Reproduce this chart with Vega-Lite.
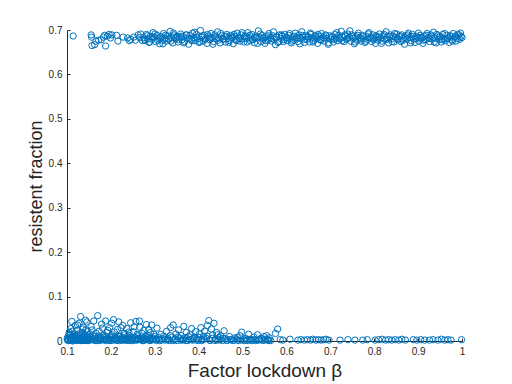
{
  "$schema": "https://vega.github.io/schema/vega-lite/v6.json",
  "width": 395,
  "height": 311,
  "autosize": {"type": "none"},
  "padding": {"left": 67, "top": 30, "right": 50, "bottom": 43},
  "background": "white",
  "config": {
    "view": {"stroke": null},
    "font": "Liberation Sans",
    "axis": {
      "grid": false,
      "domainColor": "#262626",
      "domainWidth": 1,
      "tickColor": "#262626",
      "tickSize": -3,
      "labelPadding": 8,
      "labelFont": "Liberation Sans",
      "labelFontSize": 10,
      "labelColor": "#262626",
      "titleFont": "Liberation Sans",
      "titleFontWeight": "normal",
      "titleColor": "#262626"
    }
  },
  "data": {
    "values": [
      {"beta":0.114,"frac":0.6865},{"beta":0.155,"frac":0.689},{"beta":0.156,"frac":0.684},{"beta":0.157,"frac":0.665},
      {"beta":0.163,"frac":0.667},{"beta":0.166,"frac":0.675},{"beta":0.172,"frac":0.677},{"beta":0.178,"frac":0.678},
      {"beta":0.183,"frac":0.684},{"beta":0.186,"frac":0.688},{"beta":0.188,"frac":0.664},{"beta":0.192,"frac":0.686},
      {"beta":0.196,"frac":0.690},{"beta":0.199,"frac":0.682},{"beta":0.202,"frac":0.689},{"beta":0.213,"frac":0.688},
      {"beta":0.216,"frac":0.675},{"beta":0.228,"frac":0.684},{"beta":0.238,"frac":0.682},{"beta":0.242,"frac":0.676},
      {"beta":0.245,"frac":0.679},{"beta":0.252,"frac":0.684},{"beta":0.256,"frac":0.677},{"beta":0.262,"frac":0.689},
      {"beta":0.265,"frac":0.683},{"beta":0.268,"frac":0.691},{"beta":0.272,"frac":0.676},
      {"beta":0.275,"frac":0.683},{"beta":0.278,"frac":0.676},{"beta":0.281,"frac":0.690},{"beta":0.284,"frac":0.680},{"beta":0.287,"frac":0.672},
      {"beta":0.290,"frac":0.686},{"beta":0.293,"frac":0.679},{"beta":0.296,"frac":0.694},{"beta":0.299,"frac":0.684},{"beta":0.302,"frac":0.674},
      {"beta":0.305,"frac":0.688},{"beta":0.308,"frac":0.681},{"beta":0.311,"frac":0.669},{"beta":0.314,"frac":0.685},{"beta":0.317,"frac":0.677},
      {"beta":0.320,"frac":0.692},{"beta":0.323,"frac":0.682},{"beta":0.326,"frac":0.675},{"beta":0.329,"frac":0.687},{"beta":0.332,"frac":0.679},
      {"beta":0.335,"frac":0.697},{"beta":0.338,"frac":0.683},{"beta":0.341,"frac":0.671},{"beta":0.344,"frac":0.689},{"beta":0.347,"frac":0.680},
      {"beta":0.350,"frac":0.686},{"beta":0.353,"frac":0.673},{"beta":0.356,"frac":0.684},{"beta":0.359,"frac":0.691},{"beta":0.362,"frac":0.678},
      {"beta":0.365,"frac":0.685},{"beta":0.368,"frac":0.674},{"beta":0.371,"frac":0.689},{"beta":0.374,"frac":0.681},{"beta":0.377,"frac":0.668},
      {"beta":0.380,"frac":0.687},{"beta":0.383,"frac":0.679},{"beta":0.386,"frac":0.693},{"beta":0.389,"frac":0.683},{"beta":0.392,"frac":0.676},
      {"beta":0.395,"frac":0.690},{"beta":0.398,"frac":0.680},{"beta":0.401,"frac":0.672},{"beta":0.404,"frac":0.699},{"beta":0.407,"frac":0.684},
      {"beta":0.410,"frac":0.675},{"beta":0.413,"frac":0.688},{"beta":0.416,"frac":0.681},{"beta":0.419,"frac":0.670},{"beta":0.422,"frac":0.686},
      {"beta":0.425,"frac":0.678},{"beta":0.428,"frac":0.692},{"beta":0.431,"frac":0.683},{"beta":0.434,"frac":0.674},{"beta":0.437,"frac":0.689},
      {"beta":0.440,"frac":0.680},{"beta":0.443,"frac":0.696},{"beta":0.446,"frac":0.682},{"beta":0.449,"frac":0.671},{"beta":0.452,"frac":0.687},
      {"beta":0.455,"frac":0.679},{"beta":0.458,"frac":0.685},{"beta":0.461,"frac":0.673},{"beta":0.464,"frac":0.690},{"beta":0.467,"frac":0.681},
      {"beta":0.470,"frac":0.676},{"beta":0.473,"frac":0.688},{"beta":0.476,"frac":0.682},{"beta":0.479,"frac":0.669},{"beta":0.482,"frac":0.686},
      {"beta":0.485,"frac":0.678},{"beta":0.488,"frac":0.693},{"beta":0.491,"frac":0.684},{"beta":0.494,"frac":0.675},{"beta":0.497,"frac":0.689},
      {"beta":0.500,"frac":0.680},{"beta":0.503,"frac":0.673},{"beta":0.506,"frac":0.687},{"beta":0.509,"frac":0.681},{"beta":0.512,"frac":0.694},
      {"beta":0.515,"frac":0.683},{"beta":0.518,"frac":0.676},{"beta":0.521,"frac":0.690},{"beta":0.524,"frac":0.679},{"beta":0.527,"frac":0.671},
      {"beta":0.530,"frac":0.686},{"beta":0.533,"frac":0.682},{"beta":0.536,"frac":0.698},{"beta":0.539,"frac":0.684},{"beta":0.542,"frac":0.674},
      {"beta":0.545,"frac":0.688},{"beta":0.548,"frac":0.680},{"beta":0.551,"frac":0.670},{"beta":0.554,"frac":0.685},{"beta":0.557,"frac":0.677},
      {"beta":0.560,"frac":0.692},{"beta":0.563,"frac":0.683},{"beta":0.566,"frac":0.675},{"beta":0.569,"frac":0.687},{"beta":0.572,"frac":0.679},
      {"beta":0.575,"frac":0.667},{"beta":0.578,"frac":0.684},{"beta":0.581,"frac":0.672},{"beta":0.584,"frac":0.689},{"beta":0.587,"frac":0.681},
      {"beta":0.590,"frac":0.686},{"beta":0.593,"frac":0.674},{"beta":0.596,"frac":0.690},{"beta":0.599,"frac":0.682},{"beta":0.602,"frac":0.676},
      {"beta":0.605,"frac":0.688},{"beta":0.608,"frac":0.680},{"beta":0.611,"frac":0.671},{"beta":0.614,"frac":0.685},{"beta":0.617,"frac":0.678},
      {"beta":0.620,"frac":0.693},{"beta":0.623,"frac":0.683},{"beta":0.626,"frac":0.674},{"beta":0.629,"frac":0.689},{"beta":0.632,"frac":0.681},
      {"beta":0.635,"frac":0.696},{"beta":0.638,"frac":0.684},{"beta":0.641,"frac":0.672},{"beta":0.644,"frac":0.687},{"beta":0.647,"frac":0.679},
      {"beta":0.650,"frac":0.685},{"beta":0.653,"frac":0.673},{"beta":0.656,"frac":0.690},{"beta":0.659,"frac":0.682},{"beta":0.662,"frac":0.676},
      {"beta":0.665,"frac":0.688},{"beta":0.668,"frac":0.680},{"beta":0.671,"frac":0.670},{"beta":0.674,"frac":0.686},{"beta":0.677,"frac":0.678},
      {"beta":0.680,"frac":0.692},{"beta":0.683,"frac":0.684},{"beta":0.686,"frac":0.675},{"beta":0.689,"frac":0.689},{"beta":0.692,"frac":0.681},
      {"beta":0.695,"frac":0.668},{"beta":0.698,"frac":0.687},{"beta":0.701,"frac":0.679},{"beta":0.704,"frac":0.685},{"beta":0.707,"frac":0.673},
      {"beta":0.710,"frac":0.690},{"beta":0.713,"frac":0.682},{"beta":0.716,"frac":0.676},{"beta":0.719,"frac":0.688},{"beta":0.722,"frac":0.680},
      {"beta":0.725,"frac":0.697},{"beta":0.728,"frac":0.684},{"beta":0.731,"frac":0.674},{"beta":0.734,"frac":0.686},{"beta":0.737,"frac":0.679},
      {"beta":0.740,"frac":0.691},{"beta":0.743,"frac":0.683},{"beta":0.746,"frac":0.675},{"beta":0.749,"frac":0.689},{"beta":0.752,"frac":0.681},
      {"beta":0.755,"frac":0.669},{"beta":0.758,"frac":0.685},{"beta":0.761,"frac":0.677},{"beta":0.764,"frac":0.693},{"beta":0.767,"frac":0.683},
      {"beta":0.770,"frac":0.675},{"beta":0.773,"frac":0.688},{"beta":0.776,"frac":0.680},{"beta":0.779,"frac":0.672},{"beta":0.782,"frac":0.686},
      {"beta":0.785,"frac":0.679},{"beta":0.788,"frac":0.694},{"beta":0.791,"frac":0.684},{"beta":0.794,"frac":0.674},{"beta":0.797,"frac":0.689},
      {"beta":0.800,"frac":0.681},{"beta":0.803,"frac":0.670},{"beta":0.806,"frac":0.685},{"beta":0.809,"frac":0.677},{"beta":0.812,"frac":0.691},
      {"beta":0.815,"frac":0.682},{"beta":0.818,"frac":0.675},{"beta":0.821,"frac":0.687},{"beta":0.824,"frac":0.679},{"beta":0.827,"frac":0.696},
      {"beta":0.830,"frac":0.683},{"beta":0.833,"frac":0.671},{"beta":0.836,"frac":0.689},{"beta":0.839,"frac":0.680},{"beta":0.842,"frac":0.686},
      {"beta":0.845,"frac":0.673},{"beta":0.848,"frac":0.684},{"beta":0.851,"frac":0.691},{"beta":0.854,"frac":0.678},{"beta":0.857,"frac":0.685},
      {"beta":0.860,"frac":0.674},{"beta":0.863,"frac":0.689},{"beta":0.866,"frac":0.681},{"beta":0.869,"frac":0.668},{"beta":0.872,"frac":0.687},
      {"beta":0.875,"frac":0.679},{"beta":0.878,"frac":0.693},{"beta":0.881,"frac":0.683},{"beta":0.884,"frac":0.676},{"beta":0.887,"frac":0.690},
      {"beta":0.890,"frac":0.680},{"beta":0.893,"frac":0.672},{"beta":0.896,"frac":0.686},{"beta":0.899,"frac":0.684},{"beta":0.902,"frac":0.675},
      {"beta":0.905,"frac":0.688},{"beta":0.908,"frac":0.681},{"beta":0.911,"frac":0.670},{"beta":0.914,"frac":0.686},{"beta":0.917,"frac":0.678},
      {"beta":0.920,"frac":0.692},{"beta":0.923,"frac":0.683},{"beta":0.926,"frac":0.674},{"beta":0.929,"frac":0.689},{"beta":0.932,"frac":0.680},
      {"beta":0.935,"frac":0.695},{"beta":0.938,"frac":0.682},{"beta":0.941,"frac":0.671},{"beta":0.944,"frac":0.687},{"beta":0.947,"frac":0.679},
      {"beta":0.950,"frac":0.685},{"beta":0.953,"frac":0.673},{"beta":0.956,"frac":0.690},{"beta":0.959,"frac":0.681},{"beta":0.962,"frac":0.676},
      {"beta":0.965,"frac":0.688},{"beta":0.968,"frac":0.682},{"beta":0.971,"frac":0.672},{"beta":0.974,"frac":0.686},{"beta":0.977,"frac":0.678},
      {"beta":0.980,"frac":0.692},{"beta":0.983,"frac":0.684},{"beta":0.986,"frac":0.675},{"beta":0.989,"frac":0.689},{"beta":0.992,"frac":0.690},
      {"beta":0.995,"frac":0.679},{"beta":0.998,"frac":0.686},{"beta":1.000,"frac":0.683},

      {"beta":0.2765,"frac":0.679},{"beta":0.2825,"frac":0.687},{"beta":0.2885,"frac":0.673},{"beta":0.2945,"frac":0.684},{"beta":0.3005,"frac":0.691},
      {"beta":0.3065,"frac":0.677},{"beta":0.3125,"frac":0.682},{"beta":0.3185,"frac":0.669},{"beta":0.3245,"frac":0.688},{"beta":0.3305,"frac":0.680},
      {"beta":0.3365,"frac":0.675},{"beta":0.3425,"frac":0.693},{"beta":0.3485,"frac":0.683},{"beta":0.3545,"frac":0.678},{"beta":0.3605,"frac":0.686},
      {"beta":0.3665,"frac":0.671},{"beta":0.3725,"frac":0.689},{"beta":0.3785,"frac":0.681},{"beta":0.3845,"frac":0.676},{"beta":0.3905,"frac":0.695},
      {"beta":0.3965,"frac":0.684},{"beta":0.4025,"frac":0.674},{"beta":0.4085,"frac":0.687},{"beta":0.4145,"frac":0.679},{"beta":0.4205,"frac":0.690},
      {"beta":0.4265,"frac":0.682},{"beta":0.4325,"frac":0.668},{"beta":0.4385,"frac":0.685},{"beta":0.4445,"frac":0.677},{"beta":0.4505,"frac":0.692},
      {"beta":0.4565,"frac":0.680},{"beta":0.4625,"frac":0.686},{"beta":0.4685,"frac":0.672},{"beta":0.4745,"frac":0.684},{"beta":0.4805,"frac":0.690},
      {"beta":0.4865,"frac":0.676},{"beta":0.4925,"frac":0.681},{"beta":0.4985,"frac":0.694},{"beta":0.5045,"frac":0.685},{"beta":0.5105,"frac":0.673},
      {"beta":0.5165,"frac":0.688},{"beta":0.5225,"frac":0.679},{"beta":0.5285,"frac":0.683},{"beta":0.5345,"frac":0.670},{"beta":0.5405,"frac":0.691},
      {"beta":0.5465,"frac":0.682},{"beta":0.5525,"frac":0.676},{"beta":0.5585,"frac":0.687},{"beta":0.5645,"frac":0.680},{"beta":0.5705,"frac":0.696},
      {"beta":0.5765,"frac":0.684},{"beta":0.5825,"frac":0.674},{"beta":0.5885,"frac":0.689},{"beta":0.5945,"frac":0.678},{"beta":0.6005,"frac":0.683},
      {"beta":0.6065,"frac":0.692},{"beta":0.6125,"frac":0.675},{"beta":0.6185,"frac":0.686},{"beta":0.6245,"frac":0.681},{"beta":0.6305,"frac":0.669},
      {"beta":0.6365,"frac":0.688},{"beta":0.6425,"frac":0.679},{"beta":0.6485,"frac":0.684},{"beta":0.6545,"frac":0.693},{"beta":0.6605,"frac":0.673},
      {"beta":0.6665,"frac":0.685},{"beta":0.6725,"frac":0.690},{"beta":0.6785,"frac":0.677},{"beta":0.6845,"frac":0.682},{"beta":0.6905,"frac":0.687},
      {"beta":0.6965,"frac":0.671},{"beta":0.7025,"frac":0.684},{"beta":0.7085,"frac":0.679},{"beta":0.7145,"frac":0.694},{"beta":0.7205,"frac":0.683},
      {"beta":0.7265,"frac":0.676},{"beta":0.7325,"frac":0.689},{"beta":0.7385,"frac":0.681},{"beta":0.7445,"frac":0.698},{"beta":0.7505,"frac":0.685},
      {"beta":0.7565,"frac":0.673},{"beta":0.7625,"frac":0.688},{"beta":0.7685,"frac":0.680},{"beta":0.7745,"frac":0.686},{"beta":0.7805,"frac":0.675},
      {"beta":0.7865,"frac":0.691},{"beta":0.7925,"frac":0.682},{"beta":0.7985,"frac":0.678},{"beta":0.8045,"frac":0.687},{"beta":0.8105,"frac":0.684},
      {"beta":0.8165,"frac":0.670},{"beta":0.8225,"frac":0.690},{"beta":0.8285,"frac":0.679},{"beta":0.8345,"frac":0.685},{"beta":0.8405,"frac":0.674},
      {"beta":0.8465,"frac":0.692},{"beta":0.8525,"frac":0.681},{"beta":0.8585,"frac":0.687},{"beta":0.8645,"frac":0.676},{"beta":0.8705,"frac":0.683},
      {"beta":0.8765,"frac":0.689},{"beta":0.8825,"frac":0.671},{"beta":0.8885,"frac":0.685},{"beta":0.8945,"frac":0.680},{"beta":0.9005,"frac":0.693},
      {"beta":0.9065,"frac":0.683},{"beta":0.9125,"frac":0.677},{"beta":0.9185,"frac":0.688},{"beta":0.9245,"frac":0.681},{"beta":0.9305,"frac":0.686},
      {"beta":0.9365,"frac":0.673},{"beta":0.9425,"frac":0.690},{"beta":0.9485,"frac":0.684},{"beta":0.9545,"frac":0.678},{"beta":0.9605,"frac":0.692},
      {"beta":0.9665,"frac":0.680},{"beta":0.9725,"frac":0.687},{"beta":0.9785,"frac":0.675},{"beta":0.9845,"frac":0.685},{"beta":0.9905,"frac":0.681},
      {"beta":0.9965,"frac":0.693},

      {"beta":0.101,"frac":0.002},{"beta":0.103,"frac":0.012},{"beta":0.105,"frac":0.020},{"beta":0.107,"frac":0.005},{"beta":0.109,"frac":0.028},
      {"beta":0.111,"frac":0.044},{"beta":0.113,"frac":0.009},{"beta":0.115,"frac":0.001},{"beta":0.117,"frac":0.016},{"beta":0.119,"frac":0.035},
      {"beta":0.121,"frac":0.006},{"beta":0.123,"frac":0.024},{"beta":0.125,"frac":0.003},{"beta":0.127,"frac":0.040},{"beta":0.129,"frac":0.013},
      {"beta":0.131,"frac":0.055},{"beta":0.133,"frac":0.002},{"beta":0.135,"frac":0.019},{"beta":0.137,"frac":0.031},{"beta":0.139,"frac":0.008},
      {"beta":0.141,"frac":0.001},{"beta":0.143,"frac":0.025},{"beta":0.145,"frac":0.043},{"beta":0.147,"frac":0.011},{"beta":0.149,"frac":0.004},
      {"beta":0.102,"frac":0.004},{"beta":0.104,"frac":0.001},{"beta":0.106,"frac":0.008},{"beta":0.108,"frac":0.015},{"beta":0.110,"frac":0.002},
      {"beta":0.112,"frac":0.022},{"beta":0.114,"frac":0.006},{"beta":0.116,"frac":0.003},{"beta":0.118,"frac":0.010},{"beta":0.120,"frac":0.001},
      {"beta":0.122,"frac":0.014},{"beta":0.124,"frac":0.036},{"beta":0.126,"frac":0.007},{"beta":0.128,"frac":0.002},{"beta":0.130,"frac":0.018},
      {"beta":0.132,"frac":0.009},{"beta":0.134,"frac":0.001},{"beta":0.136,"frac":0.027},{"beta":0.138,"frac":0.004},{"beta":0.140,"frac":0.012},
      {"beta":0.142,"frac":0.047},{"beta":0.144,"frac":0.003},{"beta":0.146,"frac":0.021},{"beta":0.148,"frac":0.007},{"beta":0.150,"frac":0.001},
      {"beta":0.1005,"frac":0.006},{"beta":0.1035,"frac":0.001},{"beta":0.1065,"frac":0.013},{"beta":0.1095,"frac":0.004},{"beta":0.1125,"frac":0.000},
      {"beta":0.1155,"frac":0.010},{"beta":0.1185,"frac":0.005},{"beta":0.1215,"frac":0.002},{"beta":0.1245,"frac":0.012},{"beta":0.1275,"frac":0.005},
      {"beta":0.1305,"frac":0.001},{"beta":0.1335,"frac":0.008},{"beta":0.1365,"frac":0.003},{"beta":0.1395,"frac":0.015},{"beta":0.1425,"frac":0.006},
      {"beta":0.1455,"frac":0.001},{"beta":0.1485,"frac":0.009},{"beta":0.1535,"frac":0.004},{"beta":0.1595,"frac":0.012},{"beta":0.1655,"frac":0.001},
      {"beta":0.1715,"frac":0.006},{"beta":0.1775,"frac":0.003},{"beta":0.1835,"frac":0.009},{"beta":0.1895,"frac":0.005},{"beta":0.1955,"frac":0.001},
      {"beta":0.2015,"frac":0.011},{"beta":0.2075,"frac":0.004},{"beta":0.2135,"frac":0.008},{"beta":0.2195,"frac":0.001},{"beta":0.2255,"frac":0.005},
      {"beta":0.2315,"frac":0.002},{"beta":0.2375,"frac":0.010},{"beta":0.2435,"frac":0.004},{"beta":0.2495,"frac":0.001},{"beta":0.2555,"frac":0.008},
      {"beta":0.2615,"frac":0.003},{"beta":0.2675,"frac":0.006},{"beta":0.2735,"frac":0.001},{"beta":0.2795,"frac":0.004},{"beta":0.2855,"frac":0.008},
      {"beta":0.2915,"frac":0.002},{"beta":0.2975,"frac":0.005},
      {"beta":0.152,"frac":0.016},{"beta":0.155,"frac":0.033},{"beta":0.158,"frac":0.004},{"beta":0.161,"frac":0.045},{"beta":0.164,"frac":0.010},
      {"beta":0.167,"frac":0.001},{"beta":0.170,"frac":0.057},{"beta":0.173,"frac":0.022},{"beta":0.176,"frac":0.006},{"beta":0.179,"frac":0.038},
      {"beta":0.182,"frac":0.013},{"beta":0.185,"frac":0.002},{"beta":0.188,"frac":0.045},{"beta":0.191,"frac":0.019},{"beta":0.194,"frac":0.007},
      {"beta":0.197,"frac":0.030},{"beta":0.200,"frac":0.001},{"beta":0.203,"frac":0.014},{"beta":0.206,"frac":0.048},{"beta":0.209,"frac":0.009},
      {"beta":0.212,"frac":0.003},{"beta":0.215,"frac":0.026},{"beta":0.218,"frac":0.043},{"beta":0.221,"frac":0.011},{"beta":0.224,"frac":0.002},
      {"beta":0.227,"frac":0.035},{"beta":0.230,"frac":0.017},{"beta":0.233,"frac":0.005},{"beta":0.236,"frac":0.028},{"beta":0.239,"frac":0.001},
      {"beta":0.242,"frac":0.012},{"beta":0.245,"frac":0.041},{"beta":0.248,"frac":0.006},{"beta":0.251,"frac":0.021},{"beta":0.254,"frac":0.002},
      {"beta":0.257,"frac":0.044},{"beta":0.260,"frac":0.015},{"beta":0.263,"frac":0.004},{"beta":0.266,"frac":0.031},{"beta":0.269,"frac":0.009},
      {"beta":0.272,"frac":0.001},{"beta":0.275,"frac":0.024},{"beta":0.278,"frac":0.006},{"beta":0.281,"frac":0.037},{"beta":0.284,"frac":0.013},
      {"beta":0.287,"frac":0.002},{"beta":0.290,"frac":0.019},{"beta":0.293,"frac":0.036},{"beta":0.296,"frac":0.005},{"beta":0.299,"frac":0.010},
      {"beta":0.151,"frac":0.003},{"beta":0.154,"frac":0.008},{"beta":0.157,"frac":0.025},{"beta":0.160,"frac":0.002},{"beta":0.163,"frac":0.005},
      {"beta":0.166,"frac":0.018},{"beta":0.169,"frac":0.004},{"beta":0.172,"frac":0.011},{"beta":0.175,"frac":0.001},{"beta":0.178,"frac":0.007},
      {"beta":0.181,"frac":0.029},{"beta":0.184,"frac":0.003},{"beta":0.187,"frac":0.010},{"beta":0.190,"frac":0.001},{"beta":0.193,"frac":0.024},
      {"beta":0.196,"frac":0.004},{"beta":0.199,"frac":0.008},{"beta":0.202,"frac":0.040},{"beta":0.205,"frac":0.002},{"beta":0.208,"frac":0.020},
      {"beta":0.211,"frac":0.006},{"beta":0.214,"frac":0.001},{"beta":0.217,"frac":0.011},{"beta":0.220,"frac":0.004},{"beta":0.223,"frac":0.030},
      {"beta":0.226,"frac":0.008},{"beta":0.229,"frac":0.002},{"beta":0.232,"frac":0.014},{"beta":0.235,"frac":0.003},{"beta":0.238,"frac":0.007},
      {"beta":0.241,"frac":0.020},{"beta":0.244,"frac":0.001},{"beta":0.247,"frac":0.009},{"beta":0.250,"frac":0.004},{"beta":0.253,"frac":0.032},
      {"beta":0.256,"frac":0.006},{"beta":0.259,"frac":0.002},{"beta":0.262,"frac":0.012},{"beta":0.265,"frac":0.045},{"beta":0.268,"frac":0.003},
      {"beta":0.271,"frac":0.017},{"beta":0.274,"frac":0.007},{"beta":0.277,"frac":0.002},{"beta":0.280,"frac":0.010},{"beta":0.283,"frac":0.004},
      {"beta":0.286,"frac":0.026},{"beta":0.289,"frac":0.001},{"beta":0.292,"frac":0.008},{"beta":0.295,"frac":0.003},{"beta":0.298,"frac":0.015},
      {"beta":0.302,"frac":0.003},{"beta":0.305,"frac":0.029},{"beta":0.308,"frac":0.008},{"beta":0.311,"frac":0.001},{"beta":0.314,"frac":0.015},
      {"beta":0.317,"frac":0.005},{"beta":0.320,"frac":0.011},{"beta":0.324,"frac":0.002},{"beta":0.327,"frac":0.022},{"beta":0.330,"frac":0.006},
      {"beta":0.333,"frac":0.001},{"beta":0.336,"frac":0.030},{"beta":0.339,"frac":0.009},{"beta":0.342,"frac":0.036},{"beta":0.345,"frac":0.003},
      {"beta":0.348,"frac":0.016},{"beta":0.351,"frac":0.001},{"beta":0.354,"frac":0.025},{"beta":0.357,"frac":0.006},{"beta":0.360,"frac":0.012},
      {"beta":0.363,"frac":0.002},{"beta":0.366,"frac":0.033},{"beta":0.369,"frac":0.008},{"beta":0.372,"frac":0.019},{"beta":0.375,"frac":0.001},
      {"beta":0.378,"frac":0.004},{"beta":0.381,"frac":0.014},{"beta":0.384,"frac":0.028},{"beta":0.387,"frac":0.002},{"beta":0.390,"frac":0.009},
      {"beta":0.393,"frac":0.021},{"beta":0.396,"frac":0.005},{"beta":0.399,"frac":0.001},{"beta":0.402,"frac":0.016},{"beta":0.405,"frac":0.030},
      {"beta":0.408,"frac":0.003},{"beta":0.411,"frac":0.011},{"beta":0.414,"frac":0.022},{"beta":0.417,"frac":0.006},{"beta":0.420,"frac":0.035},
      {"beta":0.423,"frac":0.046},{"beta":0.426,"frac":0.001},{"beta":0.429,"frac":0.027},{"beta":0.432,"frac":0.013},{"beta":0.435,"frac":0.040},
      {"beta":0.438,"frac":0.004},{"beta":0.441,"frac":0.019},{"beta":0.444,"frac":0.002},{"beta":0.447,"frac":0.008},{"beta":0.450,"frac":0.012},
      {"beta":0.454,"frac":0.001},{"beta":0.458,"frac":0.023},{"beta":0.462,"frac":0.005},{"beta":0.466,"frac":0.002},{"beta":0.470,"frac":0.010},
      {"beta":0.474,"frac":0.003},{"beta":0.478,"frac":0.001},{"beta":0.482,"frac":0.007},{"beta":0.486,"frac":0.004},{"beta":0.490,"frac":0.001},
      {"beta":0.494,"frac":0.012},{"beta":0.498,"frac":0.020},{"beta":0.502,"frac":0.003},{"beta":0.506,"frac":0.006},{"beta":0.510,"frac":0.001},
      {"beta":0.514,"frac":0.015},{"beta":0.518,"frac":0.004},{"beta":0.522,"frac":0.002},{"beta":0.526,"frac":0.009},{"beta":0.530,"frac":0.001},
      {"beta":0.534,"frac":0.014},{"beta":0.538,"frac":0.003},{"beta":0.542,"frac":0.006},{"beta":0.546,"frac":0.001},{"beta":0.549,"frac":0.010},
      {"beta":0.552,"frac":0.004},{"beta":0.555,"frac":0.012},{"beta":0.558,"frac":0.002},{"beta":0.561,"frac":0.007},{"beta":0.564,"frac":0.001},
      {"beta":0.575,"frac":0.017},{"beta":0.580,"frac":0.027},
      {"beta":0.304,"frac":0.001},{"beta":0.310,"frac":0.004},{"beta":0.316,"frac":0.002},{"beta":0.322,"frac":0.007},{"beta":0.329,"frac":0.003},
      {"beta":0.335,"frac":0.012},{"beta":0.341,"frac":0.001},{"beta":0.347,"frac":0.005},{"beta":0.353,"frac":0.009},{"beta":0.359,"frac":0.002},
      {"beta":0.365,"frac":0.004},{"beta":0.371,"frac":0.001},{"beta":0.377,"frac":0.010},{"beta":0.383,"frac":0.003},{"beta":0.389,"frac":0.006},
      {"beta":0.395,"frac":0.002},{"beta":0.401,"frac":0.008},{"beta":0.407,"frac":0.001},{"beta":0.413,"frac":0.004},{"beta":0.419,"frac":0.011},
      {"beta":0.425,"frac":0.002},{"beta":0.431,"frac":0.006},{"beta":0.437,"frac":0.001},{"beta":0.443,"frac":0.014},{"beta":0.449,"frac":0.003},
      {"beta":0.456,"frac":0.006},{"beta":0.464,"frac":0.001},{"beta":0.472,"frac":0.003},{"beta":0.480,"frac":0.002},{"beta":0.488,"frac":0.008},
      {"beta":0.496,"frac":0.002},{"beta":0.504,"frac":0.001},{"beta":0.512,"frac":0.004},{"beta":0.520,"frac":0.001},{"beta":0.528,"frac":0.003},
      {"beta":0.536,"frac":0.002},{"beta":0.544,"frac":0.004},{"beta":0.550,"frac":0.002},{"beta":0.556,"frac":0.003},{"beta":0.560,"frac":0.001},
      {"beta":0.586,"frac":0.003},{"beta":0.592,"frac":0.002},{"beta":0.608,"frac":0.004},{"beta":0.626,"frac":0.002},{"beta":0.633,"frac":0.003},
      {"beta":0.641,"frac":0.002},{"beta":0.648,"frac":0.003},{"beta":0.655,"frac":0.002},{"beta":0.660,"frac":0.004},{"beta":0.667,"frac":0.002},
      {"beta":0.673,"frac":0.003},{"beta":0.679,"frac":0.002},{"beta":0.685,"frac":0.003},{"beta":0.690,"frac":0.004},{"beta":0.697,"frac":0.002},
      {"beta":0.722,"frac":0.002},{"beta":0.740,"frac":0.003},{"beta":0.756,"frac":0.002},{"beta":0.774,"frac":0.002},{"beta":0.784,"frac":0.003},
      {"beta":0.802,"frac":0.002},{"beta":0.810,"frac":0.003},{"beta":0.818,"frac":0.004},{"beta":0.826,"frac":0.002},{"beta":0.833,"frac":0.003},
      {"beta":0.840,"frac":0.002},{"beta":0.848,"frac":0.003},{"beta":0.856,"frac":0.002},{"beta":0.863,"frac":0.004},{"beta":0.871,"frac":0.002},
      {"beta":0.889,"frac":0.003},{"beta":0.897,"frac":0.002},{"beta":0.906,"frac":0.003},{"beta":0.915,"frac":0.002},{"beta":0.926,"frac":0.002},
      {"beta":0.934,"frac":0.003},{"beta":0.945,"frac":0.002},{"beta":0.953,"frac":0.004},{"beta":0.961,"frac":0.002},{"beta":0.968,"frac":0.003},
      {"beta":0.975,"frac":0.002},{"beta":0.999,"frac":0.003}
    ]
  },
  "mark": {"type": "point", "shape": "circle", "filled": false, "size": 40, "strokeWidth": 1, "color": "#0072BD", "opacity": 1},
  "encoding": {
    "x": {
      "field": "beta", "type": "quantitative",
      "scale": {"domain": [0.1, 1], "nice": false, "zero": false},
      "axis": {"values": [0.1,0.2,0.3,0.4,0.5,0.6,0.7,0.8,0.9,1], "format": "~g", "labelFlush": false, "labelOverlap": false,
               "title": "Factor lockdown β", "titleFontSize": 19, "titlePadding": 5}
    },
    "y": {
      "field": "frac", "type": "quantitative",
      "scale": {"domain": [0, 0.7], "nice": false},
      "axis": {"values": [0,0.1,0.2,0.3,0.4,0.5,0.6,0.7], "format": "~g", "labelFlush": false, "labelOverlap": false,
               "title": "resistent fraction", "titleFontSize": 18, "titleX": -31, "titleY": 156, "titleBaseline": "middle", "titleAngle": -90}
    }
  }
}
